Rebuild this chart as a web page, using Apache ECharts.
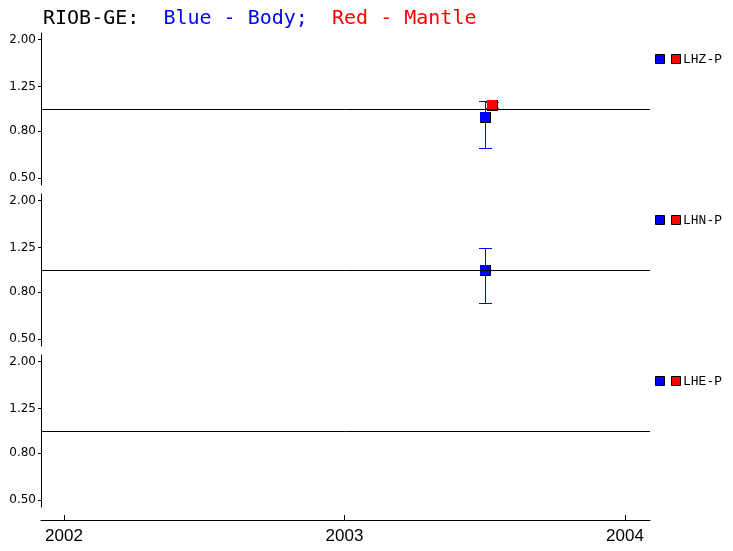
<!DOCTYPE html>
<html>
<head>
<meta charset="utf-8">
<script src="https://cdn.jsdelivr.net/npm/echarts@6/dist/echarts.min.js"></script>
<style>html,body{margin:0;padding:0;background:#fff;}#c{width:733px;height:551px;}</style>
</head>
<body>
<div id="c"></div>
<script>
// ---- data ----
const station = 'RIOB-GE';
const channels = ['LHZ-P', 'LHN-P', 'LHE-P'];
const yTicks = [0.50, 0.80, 1.25, 2.00];
const xTicks = [2002, 2003, 2004];
const xRange = [2001.918, 2004.089];
const yRange = [0.467, 2.138];
const reference = 1.0;
// each point: [decimal year, value, lower, upper]
const lhzBody   = [[2003.500, 0.919, 0.675, 1.087]];
const lhzMantle = [[2003.527, 1.040, 1.010, 1.076]];
const lhnBody   = [[2003.500, 1.000, 0.720, 1.247]];
const lhnMantle = [];
const lheBody   = [];
const lheMantle = [];

const bodyColor = '#0000ff';
const mantleColor = '#ff0000';
const bodySets = [lhzBody, lhnBody, lheBody];
const mantleSets = [lhzMantle, lhnMantle, lheMantle];

const L = Math.log10;
const crisp = v => Math.round(v) + 0.5;

function makeRender(color) {
  return function (params, api) {
    const x = api.value(0);
    const p = api.coord([x, api.value(1)]);
    const pl = api.coord([x, api.value(2)]);
    const ph = api.coord([x, api.value(3)]);
    const cx = crisp(p[0]);
    const yl = crisp(pl[1]), yh = crisp(ph[1]);
    const cw = 6.5, s = 5;
    const cy = Math.round(p[1]);
    const px = Math.round(p[0]);
    const st = { stroke: color, lineWidth: 1, fill: null };
    return {
      type: 'group',
      children: [
        { type: 'line', shape: { x1: cx, y1: yh, x2: cx, y2: yl }, style: st },
        { type: 'line', shape: { x1: cx - cw, y1: yh, x2: cx + cw, y2: yh }, style: st },
        { type: 'line', shape: { x1: cx - cw, y1: yl, x2: cx + cw, y2: yl }, style: st },
        { type: 'rect', shape: { x: px - s, y: cy - s, width: 2 * s, height: 2 * s }, style: { fill: color } },
        { type: 'polyline', shape: { points: [[px + s + 0.5, cy - s], [px + s + 0.5, cy + s + 0.5], [px - s, cy + s + 0.5]] }, style: { stroke: '#000', lineWidth: 1, fill: null } }
      ]
    };
  };
}

const tops = [33, 194, 355];
const gridH = 152;
const grids = [], xAxes = [], yAxes = [], series = [], graphics = [];

tops.forEach((top, i) => {
  grids.push({ left: 41, right: 83, top: top, height: gridH });
  const last = i === tops.length - 1;
  xAxes.push({
    type: 'value', gridIndex: i, min: xRange[0], max: xRange[1],
    show: last, offset: 13, position: 'bottom',
    axisLine: { show: true, onZero: false, lineStyle: { color: '#000', width: 1 } },
    axisTick: { show: true, inside: true, customValues: xTicks, length: 5, lineStyle: { color: '#000' } },
    axisLabel: { show: true, customValues: xTicks, color: '#000', fontFamily: 'Liberation Sans', fontSize: 17, margin: 8, formatter: v => String(Math.round(v)) },
    splitLine: { show: false }
  });
  const yt = yTicks.map(L);
  yAxes.push({
    type: 'value', gridIndex: i, min: L(yRange[0]), max: L(yRange[1]),
    axisLine: { show: true, onZero: false, lineStyle: { color: '#000', width: 1 } },
    axisTick: { show: true, customValues: yt, length: 3, lineStyle: { color: '#000' } },
    axisLabel: { show: true, customValues: yt, color: '#000', fontFamily: 'DejaVu Sans', fontSize: 12, margin: 5, formatter: v => Math.pow(10, v).toFixed(2) },
    splitLine: { show: false }
  });
  series.push({
    type: 'line', xAxisIndex: i, yAxisIndex: i, data: [], silent: true,
    markLine: { silent: true, symbol: 'none', animation: false, label: { show: false },
      lineStyle: { color: '#000', type: 'solid', width: 1 }, data: [{ yAxis: L(reference) }] }
  });
  [[bodySets[i], bodyColor], [mantleSets[i], mantleColor]].forEach(([set, color]) => {
    series.push({
      type: 'custom', xAxisIndex: i, yAxisIndex: i, clip: false,
      renderItem: makeRender(color),
      data: set.map(d => [d[0], L(d[1]), L(d[2]), L(d[3])])
    });
  });
  const ly = top + 21;
  graphics.push(
    { type: 'rect', left: 655, top: ly, shape: { width: 9, height: 9 }, style: { fill: bodyColor, stroke: '#000', lineWidth: 1 } },
    { type: 'rect', left: 671, top: ly, shape: { width: 9, height: 9 }, style: { fill: mantleColor, stroke: '#000', lineWidth: 1 } },
    { type: 'text', left: 683, top: ly - 1, style: { text: channels[i], fill: '#000', font: '13px "Liberation Mono"' } }
  );
});

const chart = echarts.init(document.getElementById('c'));
chart.setOption({
  animation: false,
  backgroundColor: '#fff',
  title: {
    left: 38, top: 4,
    text: '{k|' + station + ':  }{b|Blue - Body;  }{r|Red - Mantle}',
    textStyle: {
      fontWeight: 'normal',
      rich: {
        k: { color: '#000', fontFamily: 'DejaVu Sans Mono', fontSize: 20, fontWeight: 'normal' },
        b: { color: bodyColor, fontFamily: 'DejaVu Sans Mono', fontSize: 20, fontWeight: 'normal' },
        r: { color: mantleColor, fontFamily: 'DejaVu Sans Mono', fontSize: 20, fontWeight: 'normal' }
      }
    }
  },
  grid: grids, xAxis: xAxes, yAxis: yAxes, series: series, graphic: graphics
});
</script>
</body>
</html>
